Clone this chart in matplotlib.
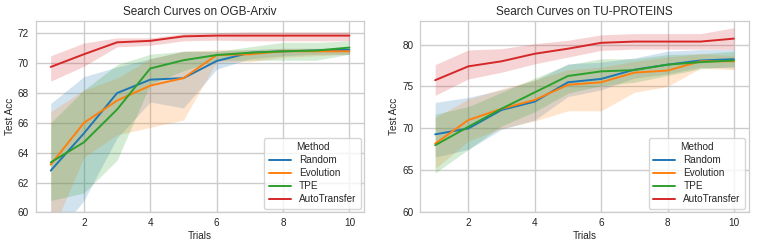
import matplotlib
matplotlib.use("Agg")
import matplotlib.pyplot as plt
import seaborn as sns
import numpy as np

sns.set_theme(style="whitegrid")
plt.rcParams['font.family'] = ['Liberation Sans', 'DejaVu Sans']

trials = [1, 2, 3, 4, 5, 6, 7, 8, 9, 10]
methods = ["Random", "Evolution", "TPE", "AutoTransfer"]
colors = ["#1f77b4", "#ff7f0e", "#2ca02c", "#d62728"]

# OGB-Arxiv: mean, lower, upper
arxiv_mean = {
    "Random":       [62.8, 65.3, 68.0, 68.9, 69.0, 70.15, 70.7, 70.8, 70.85, 70.9],
    "Evolution":    [63.2, 66.0, 67.5, 68.5, 69.0, 70.55, 70.6, 70.8, 70.8, 70.8],
    "TPE":          [63.35, 64.7, 66.9, 69.65, 70.2, 70.55, 70.7, 70.8, 70.85, 71.05],
    "AutoTransfer": [69.75, 70.6, 71.4, 71.5, 71.8, 71.85, 71.85, 71.85, 71.85, 71.85],
}
arxiv_low = {
    "Random":       [58.0, 60.8, 65.0, 67.4, 67.0, 69.6, 70.3, 70.5, 70.6, 70.6],
    "Evolution":    [58.5, 63.7, 65.2, 65.7, 66.2, 70.1, 70.1, 70.4, 70.5, 70.6],
    "TPE":          [60.8, 61.3, 63.5, 68.6, 69.5, 70.2, 70.2, 70.2, 70.2, 70.6],
    "AutoTransfer": [68.8, 69.8, 71.1, 71.2, 71.5, 71.55, 71.5, 71.5, 71.5, 71.5],
}
arxiv_high = {
    "Random":       [67.3, 69.1, 69.75, 70.3, 70.8, 70.8, 70.9, 71.0, 71.0, 71.0],
    "Evolution":    [66.75, 68.2, 69.0, 70.3, 70.8, 70.9, 70.9, 71.0, 71.0, 71.0],
    "TPE":          [66.0, 68.2, 69.9, 70.6, 70.8, 70.8, 71.1, 71.4, 71.4, 71.5],
    "AutoTransfer": [70.5, 71.35, 71.7, 71.7, 71.98, 72.05, 72.1, 72.1, 72.1, 72.1],
}

# TU-PROTEINS: mean, lower, upper
proteins_mean = {
    "Random":       [69.3, 70.0, 72.2, 73.2, 75.5, 75.9, 77.0, 77.6, 78.1, 78.25],
    "Evolution":    [68.2, 71.0, 72.35, 73.4, 75.2, 75.5, 76.65, 76.9, 78.0, 78.0],
    "TPE":          [68.0, 70.2, 72.35, 74.3, 76.25, 76.8, 76.95, 77.6, 77.9, 78.1],
    "AutoTransfer": [75.75, 77.4, 78.0, 78.9, 79.5, 80.2, 80.35, 80.35, 80.35, 80.7],
}
proteins_low = {
    "Random":       [66.6, 67.5, 69.9, 71.0, 73.8, 74.6, 76.0, 76.5, 77.3, 77.2],
    "Evolution":    [65.2, 68.5, 70.0, 70.9, 72.1, 72.1, 74.3, 75.0, 77.2, 77.0],
    "TPE":          [64.7, 67.5, 70.3, 72.0, 74.2, 75.1, 75.5, 76.3, 77.1, 77.4],
    "AutoTransfer": [73.95, 75.9, 76.7, 77.7, 78.5, 79.3, 79.45, 79.45, 79.45, 79.4],
}
proteins_high = {
    "Random":       [73.1, 73.7, 74.6, 75.7, 77.7, 77.9, 78.4, 79.2, 79.4, 79.4],
    "Evolution":    [71.3, 73.5, 74.7, 75.8, 77.0, 77.3, 78.0, 78.5, 78.9, 78.7],
    "TPE":          [71.7, 72.6, 74.3, 76.0, 77.6, 78.3, 78.3, 78.8, 78.9, 79.2],
    "AutoTransfer": [77.6, 79.35, 79.5, 80.1, 80.5, 81.15, 81.3, 81.3, 81.3, 82.0],
}


def draw(ax, mean, low, high, title, ylim, ylab_x):
    for m, c in zip(methods, colors):
        ax.fill_between(trials, low[m], high[m], color=c, alpha=0.2, linewidth=0)
        ax.plot(trials, mean[m], color=c, linewidth=1.4, label=m)
    ax.set_title(title, fontsize=8.5, pad=4)
    ax.set_xlabel("Trials", fontsize=7.2, labelpad=2)
    ax.set_ylabel("Test Acc", fontsize=7.2)
    ax.yaxis.set_label_coords(ylab_x, 0.5)
    ax.set_ylim(*ylim)
    ax.tick_params(axis="x", labelsize=7.2, length=0, pad=4)
    ax.tick_params(axis="y", labelsize=7.2, length=0, pad=5)
    for s in ax.spines.values():
        s.set_color("#cccccc")
        s.set_linewidth(0.9)
    ax.legend(title="Method", loc="lower right", fontsize=7.2, title_fontsize=7.2,
              handlelength=2.2, borderpad=0.45, labelspacing=0.3, borderaxespad=0.35)


fig, (ax1, ax2) = plt.subplots(1, 2, figsize=(7.61, 2.47), dpi=100)
draw(ax1, arxiv_mean, arxiv_low, arxiv_high, "Search Curves on OGB-Arxiv", (60, 72.83), -0.062)
draw(ax2, proteins_mean, proteins_low, proteins_high, "Search Curves on TU-PROTEINS", (60, 82.8), -0.066)
ax2.set_yticks([60, 65, 70, 75, 80])
fig.subplots_adjust(left=0.047, right=0.984, top=0.915, bottom=0.14, wspace=0.17)
fig.savefig("out.png", dpi=100)
